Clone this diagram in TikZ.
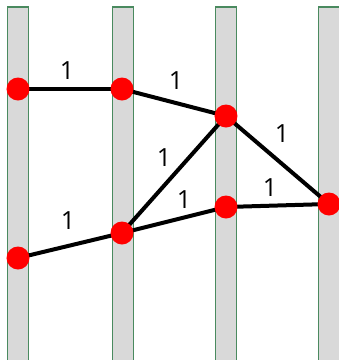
\documentclass[tikz,border=0pt]{standalone}
\usepackage{fontspec}
\setmainfont{Open Sans}
\begin{document}
\begin{tikzpicture}[x=1pt,y=-1pt,
  bar/.style={draw=barg,fill=barfill,line width=1.3pt},
  dot/.style={circle,fill=red,minimum size=23pt,inner sep=0pt},
  edge/.style={line width=4pt,black},
  wt/.style={font=\fontsize{25}{27}\selectfont,inner sep=0pt}]
\definecolor{barg}{HTML}{4A8A5F}
\definecolor{barfill}{HTML}{D9D9D9}
\useasboundingbox (0,0) rectangle (339,360);
\foreach \x in {18,123,226,329}
  \draw[bar] (\x-10.5,7) rectangle (\x+10.5,365);
\coordinate (n1) at (18,89);
\coordinate (n2) at (122,89);
\coordinate (n3) at (226,116);
\coordinate (n4) at (18,258);
\coordinate (n5) at (122,233);
\coordinate (n6) at (226,207);
\coordinate (n7) at (329,204);
\draw[edge] (n1) -- (n2);
\draw[edge] (n2) -- (n3);
\draw[edge] (n3) -- (n5);
\draw[edge] (n3) -- (n7);
\draw[edge] (n4) -- (n5);
\draw[edge] (n5) -- (n6);
\draw[edge] (n6) -- (n7);
\foreach \n in {n1,n2,n3,n4,n5,n6,n7} \node[dot] (d\n) at (\n) {};
\node[wt] (w1) at (67,71) {1};
\node[wt] (w2) at (176,81) {1};
\node[wt] (w3) at (164,158) {1};
\node[wt] (w4) at (282,134) {1};
\node[wt] (w5) at (68,221) {1};
\node[wt] (w6) at (184,200) {1};
\node[wt] (w7) at (270,188) {1};
\end{tikzpicture}
\end{document}
